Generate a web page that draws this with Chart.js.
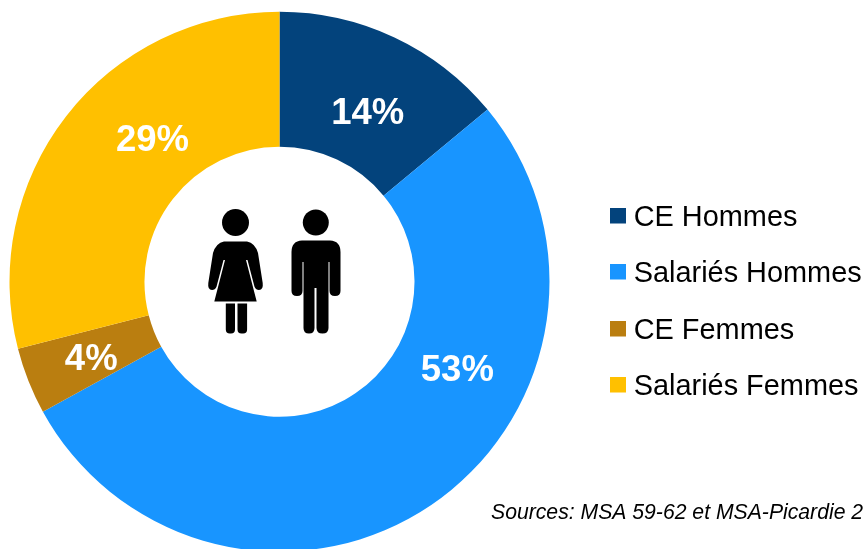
<!DOCTYPE html>
<html><head><meta charset="utf-8">
<style>html,body{margin:0;padding:0;background:#fff;overflow:hidden;width:864px;height:549px}canvas{display:block}</style>
<script src="https://cdn.jsdelivr.net/npm/chart.js@4"></script>
</head><body><canvas id="c" width="864" height="560"></canvas>
<script>
const categories = ["CE Hommes", "Salariés Hommes", "CE Femmes", "Salariés Femmes"];
const values = [14, 53, 4, 29];
const colors = ["#03437C", "#1895FF", "#BA7E10", "#FFC000"];
const sourceText = "Sources: MSA 59-62 et MSA-Picardie 2";

const labelOffsets = [[2, 15], [64, -78], [0, 4], [33, -17]];
const FONT = '"Liberation Sans", Arial, sans-serif';

const overlay = {
  id: 'overlay',
  afterDatasetsDraw(chart) {
    const ctx = chart.ctx, arcs = chart.getDatasetMeta(0).data;
    ctx.save();
    ctx.textBaseline = 'middle'; ctx.textAlign = 'center';
    ctx.fillStyle = '#fff'; ctx.font = 'bold 36.5px ' + FONT;
    arcs.forEach((a, i) => {
      const p = a.getCenterPoint();
      ctx.fillText(values[i] + '%', p.x + labelOffsets[i][0], p.y + labelOffsets[i][1]);
    });
    // legend
    ctx.textAlign = 'left'; ctx.font = '28.9px ' + FONT;
    categories.forEach((c, i) => {
      const y = 216 + i * 56.3;
      ctx.fillStyle = colors[i];
      ctx.fillRect(610, Math.round(y - 8), 16, 15.5);
      ctx.fillStyle = '#000';
      ctx.fillText(c, 633.7, y + 2);
    });
    // source
    ctx.font = 'italic 21.2px ' + FONT; ctx.fillStyle = '#000';
    ctx.fillText(sourceText, 491, 513);
    // pictograms
    ctx.fillStyle = '#000';
    ctx.beginPath(); ctx.arc(235.5, 222.5, 13.5, 0, 7); ctx.fill();
    ctx.beginPath(); ctx.arc(315.8, 222.5, 13, 0, 7); ctx.fill();
    const woman = new Path2D('M224 241.5H247Q255 243 258 253L262.7 283Q263.5 290 259 290Q256 290 254.5 286.7L247.5 260H246L256.7 301.5H214.3L225 260H223.5L216.5 286.7Q215 290 212 290Q207.5 290 208.3 283L213 253Q216 243 224 241.5Z');
    ctx.fill(woman);
    ctx.beginPath();
    ctx.roundRect(225.8, 303.5, 9.2, 30, [0, 0, 4, 4]);
    ctx.roundRect(237.5, 303.5, 9.6, 30, [0, 0, 4, 4]);
    ctx.fill();
    const man = new Path2D('M302 240.5H330Q340.5 241 340.5 252V291Q340.5 296 335 296Q329.5 296 329.5 291V262H328.5V328Q328.5 333.5 322.5 333.5Q316.5 333.5 316.5 328V288H314.5V328Q314.5 333.5 309 333.5Q303.5 333.5 303.5 328V262H302.5V291Q302.5 296 297 296Q291.5 296 291.5 291V252Q291.5 241 302 240.5Z');
    ctx.fill(man);
    ctx.restore();
  }
};

new Chart(document.getElementById('c'), {
  type: 'doughnut',
  data: { labels: categories, datasets: [{ data: values, backgroundColor: colors, borderWidth: 0 }] },
  options: {
    responsive: false, animation: false, cutout: '50%',
    layout: { padding: { left: 9.5, top: 11.7, right: 314.5, bottom: 8.3 } },
    plugins: { legend: { display: false }, tooltip: { enabled: false } }
  },
  plugins: [overlay]
});
</script></body></html>
